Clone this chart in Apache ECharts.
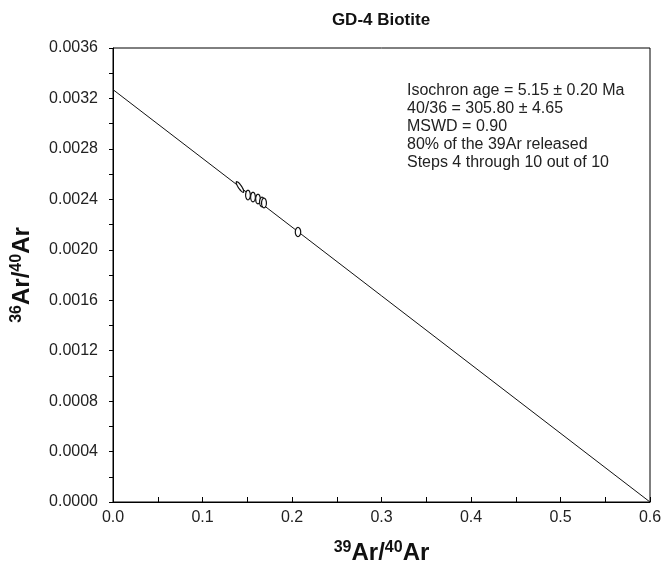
<!DOCTYPE html>
<html>
<head>
<meta charset="utf-8">
<script src="https://cdn.jsdelivr.net/npm/echarts@6/dist/echarts.min.js"></script>
<style>
    html, body { margin: 0; padding: 0; background: #fff; }
    #isochron { width: 663px; height: 567px; }
</style>
</head>
<body>
<div id="isochron"></div>
<script>
// 等时线数据 (steps 4-10)
var stepX = [0.1419, 0.1508, 0.1564, 0.1620, 0.1665, 0.1687, 0.2067];
var stepY = [0.002498, 0.002434, 0.002418, 0.002402, 0.002379, 0.002371, 0.002141];
var errX = [0.0042, 0.0026, 0.0026, 0.0026, 0.0027, 0.0027, 0.0030];
var errY = [0.000042, 0.000038, 0.000038, 0.000038, 0.000038, 0.000038, 0.000036];
var errRho = [-0.85, 0, 0, 0, 0, 0, 0];

// 拟合线端点
var fitLine = [[0.0, 0.00327], [0.6, 0.0]];

var infoLines = [
    'Isochron age = 5.15 \u00b1 0.20 Ma',
    '40/36 = 305.80 \u00b1 4.65',
    'MSWD = 0.90',
    '80% of the 39Ar released',
    'Steps 4 through 10 out of 10'
];

var ellipseData = [];
for (let i = 0; i < stepX.length; i++) {
    ellipseData.push([stepX[i], stepY[i], errX[i], errY[i], errRho[i]]);
}

var myChart = echarts.init(document.getElementById('isochron'));
var font = 'Liberation Sans, Arial, sans-serif';

var nameRich = {
    b: {fontFamily: font, fontWeight: 'bold', fontSize: 24, color: '#111', lineHeight: 26},
    sup: {fontFamily: font, fontWeight: 'bold', fontSize: 16, color: '#111', verticalAlign: 'top', lineHeight: 26}
};

var option = {
    animation: false,
    grid: {
        left: 113,
        right: 13,
        top: 48,
        bottom: 65,
        outerBoundsMode: 'none',
        containLabel: false,
        show: true,
        borderColor: '#000',
        borderWidth: 1
    },
    graphic: [
        {
            type: 'text',
            x: 381,
            y: 20,
            style: {
                text: 'GD-4 Biotite',
                fontFamily: font,
                fontWeight: 'bold',
                fontSize: 17,
                fill: '#111',
                align: 'center',
                verticalAlign: 'middle'
            }
        },
        {
            type: 'text',
            x: 407,
            y: 82,
            style: {
                text: infoLines.join('\n'),
                fontFamily: font,
                fontSize: 16,
                lineHeight: 17.8,
                fill: '#222'
            }
        }
    ],
    xAxis: {
        type: 'value',
        min: 0,
        max: 0.6,
        interval: 0.1,
        name: '{sup|39}{b|Ar/}{sup|40}{b|Ar}',
        nameLocation: 'middle',
        nameGap: 38,
        nameTextStyle: {rich: nameRich},
        axisLine: {lineStyle: {color: '#000', width: 1}},
        axisTick: {inside: true, length: 5, lineStyle: {color: '#000'}},
        minorTick: {show: true, splitNumber: 2, length: 5, lineStyle: {color: '#000'}},
        splitLine: {show: false},
        axisLabel: {
            margin: 8,
            fontFamily: font,
            fontSize: 16,
            color: '#222',
            formatter: function (v) { return v.toFixed(1); }
        }
    },
    yAxis: {
        type: 'value',
        min: 0,
        max: 0.0036,
        interval: 0.0004,
        name: '{sup|36}{b|Ar/}{sup|40}{b|Ar}',
        nameLocation: 'middle',
        nameRotate: 90,
        nameGap: 78,
        nameTextStyle: {rich: nameRich},
        axisLine: {show: true, lineStyle: {color: '#000', width: 1}},
        axisTick: {show: true, inside: false, length: 4, lineStyle: {color: '#000'}},
        minorTick: {show: true, splitNumber: 2, length: 4, lineStyle: {color: '#000'}},
        splitLine: {show: false},
        axisLabel: {
            margin: 15,
            fontFamily: font,
            fontSize: 16,
            color: '#222',
            formatter: function (v) { return v.toFixed(4); }
        }
    },
    series: [
        {
            type: 'line',
            data: fitLine,
            symbol: 'none',
            lineStyle: {color: '#111', width: 1},
            z: 2
        },
        {
            type: 'custom',
            data: ellipseData,
            z: 3,
            renderItem: function (params, api) {
                let cx = api.value(0), cy = api.value(1);
                let ex = api.value(2), ey = api.value(3), rho = api.value(4);
                let pts = [];
                for (let k = 0; k < 36; k++) {
                    let t = k / 36 * Math.PI * 2;
                    let px = cx + ex * Math.cos(t);
                    let py = cy + ey * (rho * Math.cos(t) + Math.sqrt(1 - rho * rho) * Math.sin(t));
                    pts.push(api.coord([px, py]));
                }
                return {
                    type: 'polygon',
                    shape: {points: pts},
                    style: {fill: '#fff', stroke: '#111', lineWidth: 1.2}
                };
            }
        }
    ]
};

myChart.setOption(option);
</script>
</body>
</html>
